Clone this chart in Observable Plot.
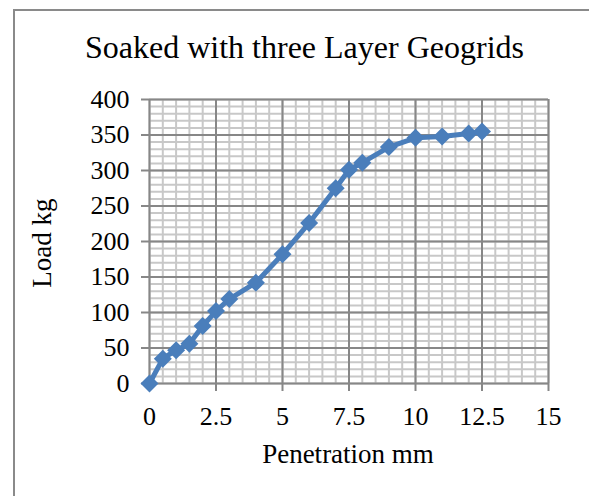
<!DOCTYPE html>
<html><head><meta charset="utf-8">
<script src="https://cdn.jsdelivr.net/npm/d3@7"></script>
<script src="https://cdn.jsdelivr.net/npm/@observablehq/plot@0.6"></script>
<style>
body{margin:0;background:#fff;}
#wrap{position:relative;width:589px;height:496px;overflow:hidden;font-family:"Liberation Serif","Times New Roman",serif;color:#000;}
#border{position:absolute;left:13px;top:9px;width:700px;height:700px;border-left:2px solid #8a8a8a;border-top:2px solid #8a8a8a;}
#chart{position:absolute;left:0;top:0;}
#chart svg, #chart svg text{font-family:"Liberation Serif","Times New Roman",serif !important;}
#title{position:absolute;left:85px;top:31px;font-size:32px;line-height:32px;white-space:nowrap;}
#ylabel{position:absolute;left:-58px;top:228px;width:200px;height:30px;line-height:30px;font-size:27px;text-align:center;transform:rotate(-90deg);white-space:nowrap;}
#xlabel{position:absolute;left:148px;top:439px;width:400px;height:30px;line-height:30px;font-size:27px;text-align:center;white-space:nowrap;}
</style>
</head><body>
<div id="wrap">
  <div id="border"></div>
  <div id="chart"></div>
  <div id="title">Soaked with three Layer Geogrids</div>
  <div id="ylabel">Load kg</div>
  <div id="xlabel">Penetration mm</div>
</div>
<script>
const penetration = [0, 0.5, 1, 1.5, 2, 2.5, 3, 4, 5, 6, 7, 7.5, 8, 9, 10, 11, 12, 12.5];
const load = [0, 35, 47, 56, 81, 102, 119, 142, 182, 226, 275, 301, 311, 333, 346, 348, 352, 355];
const xTicks = [0, 2.5, 5, 7.5, 10, 12.5, 15];
const xTickLabels = ["0", "2.5", "5", "7.5", "10", "12.5", "15"];
const yTicks = [0, 50, 100, 150, 200, 250, 300, 350, 400];
const xMinor = d3.range(0, 15.001, 0.5);
const yMinor = d3.range(0, 400.1, 10);

const data = penetration.map((p, i) => ({p, l: load[i]}));
const diamond = {draw(ctx, size) { const h = Math.sqrt(size / Math.PI); ctx.moveTo(0, -h); ctx.lineTo(h, 0); ctx.lineTo(0, h); ctx.lineTo(-h, 0); ctx.closePath(); }};
const serif = "Liberation Serif, Times New Roman, serif";

const chart = Plot.plot({
  width: 589, height: 496,
  marginLeft: 149, marginRight: 41, marginTop: 99, marginBottom: 113,
  style: {fontFamily: serif, fontSize: "26px", background: "transparent", overflow: "visible", color: "#000"},
  x: {domain: [0, 15]},
  y: {domain: [0, 400]},
  marks: [
    Plot.ruleX(xMinor, {stroke: "#c8c8c8", strokeWidth: 2}),
    Plot.ruleY(yMinor, {stroke: "#c8c8c8", strokeWidth: 2}),
    Plot.ruleX(xTicks, {stroke: "#878787", strokeWidth: 2}),
    Plot.ruleY(yTicks, {stroke: "#878787", strokeWidth: 2}),
    Plot.axisX({ticks: xTicks, tickFormat: (d) => xTickLabels[xTicks.indexOf(d)], tickSize: 8, tickPadding: 15, stroke: "#878787", strokeWidth: 2, color: "#000", fontSize: 26, fontFamily: serif, label: null}),
    Plot.axisY({ticks: yTicks, tickSize: 8, tickPadding: 12, stroke: "#878787", strokeWidth: 2, color: "#000", fontSize: 26, fontFamily: serif, label: null}),
    Plot.line(data, {x: "p", y: "l", stroke: "#4a7ebb", strokeWidth: 5, strokeLinejoin: "round"}),
    Plot.dot(data, {x: "p", y: "l", symbol: diamond, r: 9, fill: "#4a7ebb", stroke: "none"})
  ]
});
document.getElementById("chart").appendChild(chart);
</script>
</body></html>
